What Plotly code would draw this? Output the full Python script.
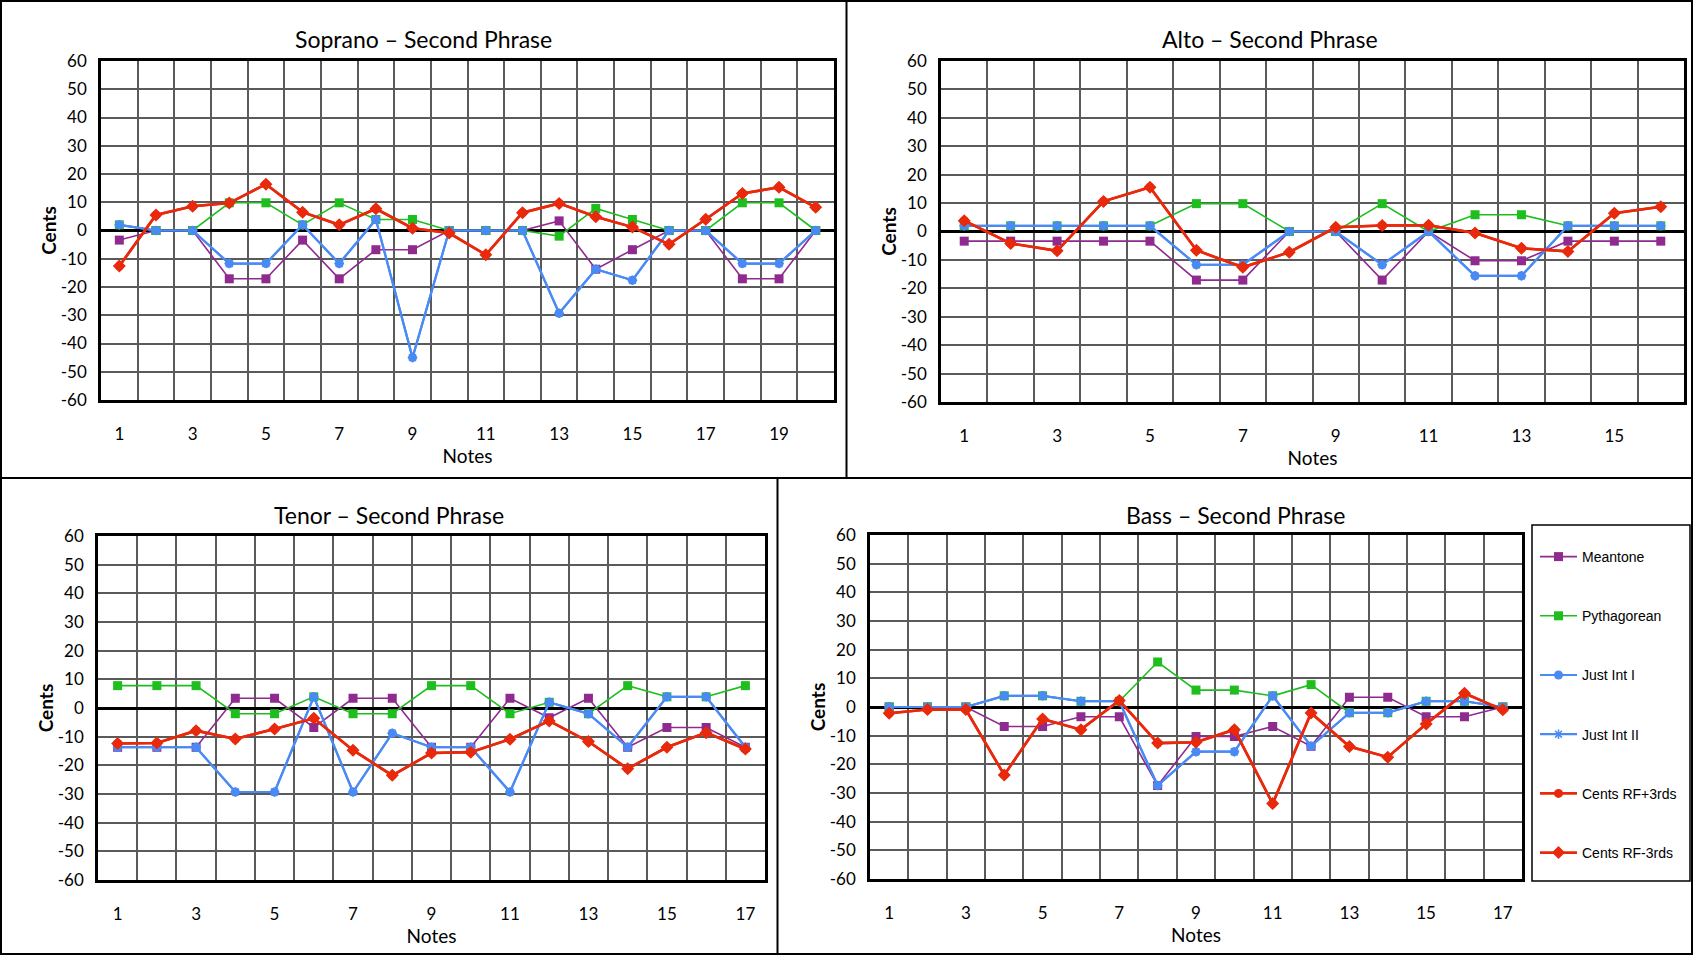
import plotly.graph_objects as go

W, H = 1693, 955

# ---------------- data ----------------
series_names = ["Meantone", "Pythagorean", "Just Int I", "Just Int II", "Cents RF+3rds", "Cents RF-3rds"]

sop_notes = list(range(1, 21))
sop_meantone = [-3.4, 0, 0, -17.1, -17.1, -3.4, -17.1, -6.8, -6.8, 0, 0, 0, 3.4, -13.7, -6.8, 0, 0, -17.1, -17.1, 0]
sop_pyth = [2.0, 0, 0, 9.8, 9.8, 2.0, 9.8, 3.9, 3.9, 0, 0, 0, -2.0, 7.8, 3.9, 0, 0, 9.8, 9.8, 0]
sop_just1 = [2.0, 0, 0, -11.7, -11.7, 2.0, -11.7, 3.9, -45.0, 0, 0, 0, -29.3, -13.7, -17.6, 0, 0, -11.7, -11.7, 0]
sop_just2 = [2.0, 0, 0, -11.7, -11.7, 2.0, -11.7, 3.9, -45.0, 0, 0, 0, -29.3, -13.7, -17.6, 0, 0, -11.7, -11.7, 0]
sop_rf_plus = [-12.6, 5.5, 8.6, 9.7, 16.4, 6.5, 2.0, 7.7, 0.8, -0.9, -8.6, 6.3, 9.6, 4.9, 1.2, -4.9, 4.0, 13.1, 15.3, 8.2]
sop_rf_minus = [-12.6, 5.5, 8.6, 9.7, 16.4, 6.5, 2.0, 7.7, 0.8, -0.9, -8.6, 6.3, 9.6, 4.9, 1.2, -4.9, 4.0, 13.1, 15.3, 8.2]
sop_ticks = [1, 3, 5, 7, 9, 11, 13, 15, 17, 19]

alto_notes = list(range(1, 17))
alto_meantone = [-3.4, -3.4, -3.4, -3.4, -3.4, -17.1, -17.1, 0, 0, -17.1, 0, -10.3, -10.3, -3.4, -3.4, -3.4]
alto_pyth = [2.0, 2.0, 2.0, 2.0, 2.0, 9.8, 9.8, 0, 0, 9.8, 0, 5.9, 5.9, 2.0, 2.0, 2.0]
alto_just1 = [2.0, 2.0, 2.0, 2.0, 2.0, -11.7, -11.7, 0, 0, -11.7, 0, -15.6, -15.6, 2.0, 2.0, 2.0]
alto_just2 = [2.0, 2.0, 2.0, 2.0, 2.0, -11.7, -11.7, 0, 0, -11.7, 0, -15.6, -15.6, 2.0, 2.0, 2.0]
alto_rf_plus = [3.8, -4.2, -6.8, 10.6, 15.6, -6.6, -12.6, -7.3, 1.5, 2.1, 2.2, -0.5, -5.9, -7.0, 6.4, 8.7]
alto_rf_minus = [3.8, -4.2, -6.8, 10.6, 15.6, -6.6, -12.6, -7.3, 1.5, 2.1, 2.2, -0.5, -5.9, -7.0, 6.4, 8.7]
alto_ticks = [1, 3, 5, 7, 9, 11, 13, 15]

ten_notes = list(range(1, 18))
ten_meantone = [-13.7, -13.7, -13.7, 3.4, 3.4, -6.8, 3.4, 3.4, -13.7, -13.7, 3.4, -3.4, 3.4, -13.7, -6.8, -6.8, -13.7]
ten_pyth = [7.8, 7.8, 7.8, -2.0, -2.0, 3.9, -2.0, -2.0, 7.8, 7.8, -2.0, 2.0, -2.0, 7.8, 3.9, 3.9, 7.8]
ten_just1 = [-13.7, -13.7, -13.7, -29.3, -29.3, 3.9, -29.3, -8.8, -13.7, -13.7, -29.3, 2.0, -2.0, -13.7, 3.9, 3.9, -13.7]
ten_just2 = [-13.7, -13.7, -13.7, -29.3, -29.3, 3.9, -29.3, -8.8, -13.7, -13.7, -29.3, 2.0, -2.0, -13.7, 3.9, 3.9, -13.7]
ten_rf_plus = [-12.4, -12.2, -7.9, -10.8, -7.3, -3.6, -14.7, -23.5, -15.7, -15.4, -10.9, -4.5, -11.7, -21.2, -13.7, -8.6, -14.3]
ten_rf_minus = [-12.4, -12.2, -7.9, -10.8, -7.3, -3.6, -14.7, -23.5, -15.7, -15.4, -10.9, -4.5, -11.7, -21.2, -13.7, -8.6, -14.3]
ten_ticks = [1, 3, 5, 7, 9, 11, 13, 15, 17]

bass_notes = list(range(1, 18))
bass_meantone = [0, 0, 0, -6.8, -6.8, -3.4, -3.4, -27.4, -10.3, -10.3, -6.8, -13.7, 3.4, 3.4, -3.4, -3.4, 0]
bass_pyth = [0, 0, 0, 3.9, 3.9, 2.0, 2.0, 15.7, 5.9, 5.9, 3.9, 7.8, -2.0, -2.0, 2.0, 2.0, 0]
bass_just1 = [0, 0, 0, 3.9, 3.9, 2.0, 2.0, -27.4, -15.6, -15.6, 3.9, -13.7, -2.0, -2.0, 2.0, 2.0, 0]
bass_just2 = [0, 0, 0, 3.9, 3.9, 2.0, 2.0, -27.4, -15.6, -15.6, 3.9, -13.7, -2.0, -2.0, 2.0, 2.0, 0]
bass_rf_plus = [-2.2, -0.9, -0.9, -23.7, -4.2, -7.9, 2.3, -12.6, -12.3, -7.9, -33.7, -2.1, -13.8, -17.5, -5.9, 4.8, -1.0]
bass_rf_minus = [-2.2, -0.9, -0.9, -23.7, -4.2, -7.9, 2.3, -12.6, -12.3, -7.9, -33.7, -2.1, -13.8, -17.5, -5.9, 4.8, -1.0]
bass_ticks = [1, 3, 5, 7, 9, 11, 13, 15, 17]

y_tickvals = [60, 50, 40, 30, 20, 10, 0, -10, -20, -30, -40, -50, -60]
y_ticktext = ["60", "50", "40", "30", "20", "10", "0", "-10", "-20", "-30", "-40", "-50", "-60"]

panel_titles = ["Soprano \u2013 Second Phrase", "Alto \u2013 Second Phrase",
                "Tenor \u2013 Second Phrase", "Bass \u2013 Second Phrase"]

# ---------------- styles ----------------
PURPLE = "#8f2a8f"
GREEN = "#1ebe1e"
BLUE = "#4a8af4"
RED = "#e8290b"
GRID = "#5a5a5a"
FONT = "Lato"

styles = [
    dict(color=PURPLE, width=1.6, symbol="square", size=9),
    dict(color=GREEN, width=1.6, symbol="square", size=9),
    dict(color=BLUE, width=2.2, symbol="circle", size=9),
    dict(color=BLUE, width=2.2, symbol="asterisk-open", size=8),
    dict(color=RED, width=2.6, symbol="circle", size=9),
    dict(color=RED, width=2.6, symbol="diamond", size=10),
]

panels = [
    (sop_notes, [sop_meantone, sop_pyth, sop_just1, sop_just2, sop_rf_plus, sop_rf_minus], sop_ticks),
    (alto_notes, [alto_meantone, alto_pyth, alto_just1, alto_just2, alto_rf_plus, alto_rf_minus], alto_ticks),
    (ten_notes, [ten_meantone, ten_pyth, ten_just1, ten_just2, ten_rf_plus, ten_rf_minus], ten_ticks),
    (bass_notes, [bass_meantone, bass_pyth, bass_just1, bass_just2, bass_rf_plus, bass_rf_minus], bass_ticks),
]

# plot areas in pixels: (left, right, top, bottom)
areas = [(101, 834, 61, 400), (941, 1684, 61, 402), (98, 765, 536, 880), (870, 1522, 535, 879)]
title_pos = [(423, 39), (1270, 39), (389, 515), (1235, 515)]

fig = go.Figure()

for p, (notes, seriess, ticks) in enumerate(panels):
    sfx = "" if p == 0 else str(p + 1)
    for s, (name, vals) in enumerate(zip(series_names, seriess)):
        st = styles[s]
        fig.add_trace(go.Scatter(
            x=notes, y=vals, name=name, mode="lines+markers",
            line=dict(color=st["color"], width=st["width"]),
            marker=dict(symbol=st["symbol"], size=st["size"], color=st["color"],
                        line=dict(color=st["color"], width=1.5 if "asterisk" in st["symbol"] else 0)),
            xaxis="x" + sfx, yaxis="y" + sfx,
            legendgroup=name, showlegend=(p == 0),
        ))

    l, r, t, b = areas[p]
    xd = [l / W, r / W]
    yd = [1 - b / H, 1 - t / H]
    n = len(notes)
    fig.layout["xaxis" + sfx] = dict(
        domain=xd, anchor="y" + sfx, range=[0.5, n + 0.5],
        tickmode="array", tickvals=ticks, ticktext=[str(v) for v in ticks],
        showgrid=False, zeroline=False,
        minor=dict(tickmode="linear", tick0=0.5, dtick=1, showgrid=True,
                   gridcolor=GRID, gridwidth=2, ticks=""),
        showline=True, mirror=True, linecolor="black", linewidth=2.5,
        ticks="", ticklabelstandoff=17, automargin=False,
        tickfont=dict(family=FONT, size=17, color="black"),
        title=dict(text="Notes", standoff=2, font=dict(family=FONT, size=19, color="black")),
        fixedrange=True,
    )
    fig.layout["yaxis" + sfx] = dict(
        domain=yd, anchor="x" + sfx, range=[-60, 60],
        tickmode="array", tickvals=y_tickvals, ticktext=y_ticktext,
        showgrid=True, gridcolor=GRID, gridwidth=2,
        zeroline=True, zerolinecolor="black", zerolinewidth=2.5,
        showline=True, mirror=True, linecolor="black", linewidth=2.5,
        ticks="", ticklabelstandoff=8, automargin=False,
        tickfont=dict(family=FONT, size=17, color="black"),
        title=dict(text="Cents", standoff=0, font=dict(family=FONT, size=19, color="black", weight="bold")),
        fixedrange=True,
    )
    tx, ty = title_pos[p]
    fig.add_annotation(text=panel_titles[p], xref="paper", yref="paper",
                       x=tx / W, y=1 - ty / H, xanchor="center", yanchor="middle",
                       showarrow=False, font=dict(family=FONT, size=23, color="black"))

def px_line(x0, y0, x1, y1, w=2):
    fig.add_shape(type="line", xref="paper", yref="paper",
                  x0=x0 / W, y0=1 - y0 / H, x1=x1 / W, y1=1 - y1 / H,
                  line=dict(color="black", width=w))

# panel borders
fig.add_shape(type="rect", xref="paper", yref="paper", x0=1 / W, y0=1 / H, x1=1 - 1 / W, y1=1 - 1 / H,
              line=dict(color="black", width=2))
px_line(0, 478, W, 478)
px_line(846.5, 0, 846.5, 478)
px_line(777.5, 478, 777.5, H)
# legend box
fig.add_shape(type="rect", xref="paper", yref="paper",
              x0=1532 / W, y0=1 - 881 / H, x1=1690 / W, y1=1 - 525 / H,
              line=dict(color="black", width=1.5))

fig.update_layout(
    width=W, height=H, margin=dict(l=0, r=0, t=0, b=0, autoexpand=False),
    paper_bgcolor="white", plot_bgcolor="white",
    legend=dict(x=1535 / W, y=1 - 541 / H, xanchor="left", yanchor="top",
                font=dict(family="Liberation Sans", size=14, color="black"),
                tracegroupgap=38, itemwidth=37, bgcolor="rgba(0,0,0,0)", borderwidth=0),
)

fig.write_html("out.html")
